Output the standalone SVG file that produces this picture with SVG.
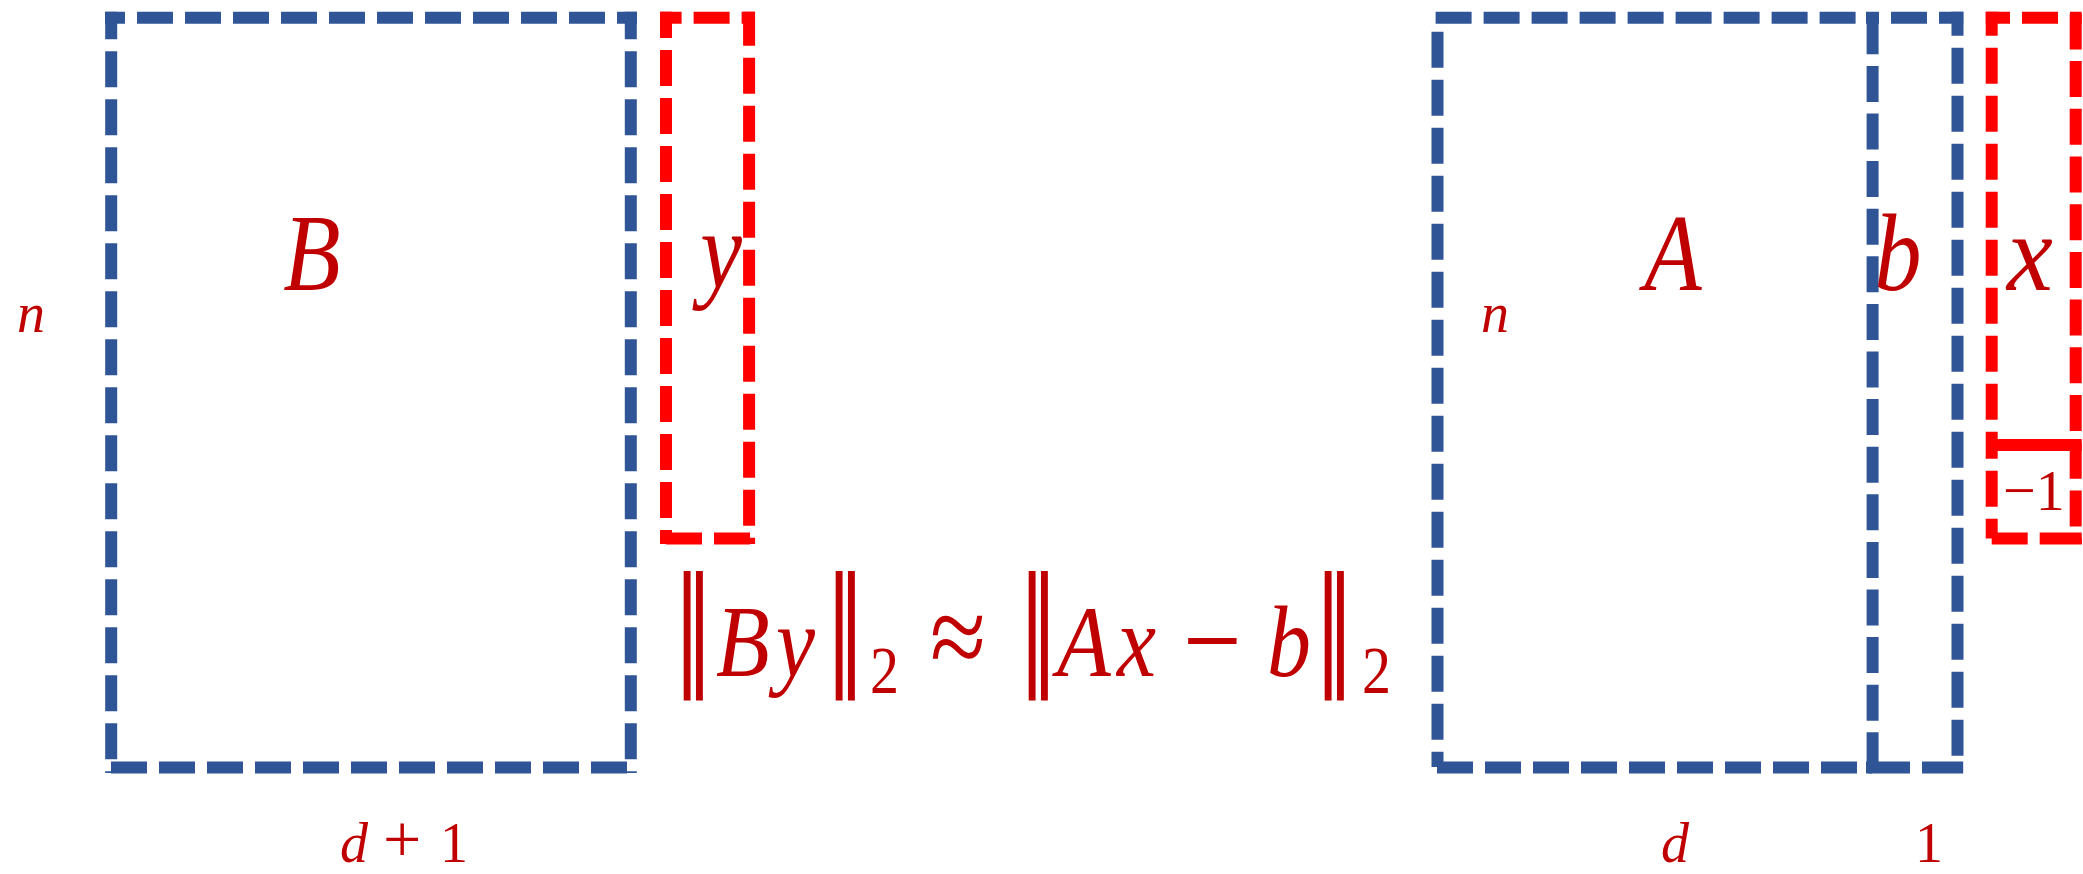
<svg xmlns="http://www.w3.org/2000/svg" width="2083" height="874" viewBox="0 0 2083 874">
<style>
.blue{stroke:#2F5597;stroke-width:12;fill:none;stroke-dasharray:36 12;stroke-linecap:butt}
.red{stroke:#FF0000;stroke-width:12;fill:none;stroke-dasharray:36 12;stroke-linecap:butt}
.solid{stroke-dasharray:none}
.t{fill:#C00000;font-family:"Liberation Serif","DejaVu Serif",serif}
.it{font-style:italic}
.big{font-size:88px}
.sm{font-size:56px}
.lbl{font-size:94px;font-style:italic}
.bar{font-size:88px;font-weight:bold}
</style>
<rect width="2083" height="874" fill="#FFFFFF"/>
<g id="node-B">
<line class="blue" x1="105" y1="17.8" x2="637" y2="17.8" stroke-dashoffset="16"/>
<line class="blue" x1="111.2" y1="11.7" x2="111.2" y2="773" stroke-dashoffset="8.4"/>
<line class="blue" x1="630.8" y1="11.7" x2="630.8" y2="773" stroke-dashoffset="8.4"/>
<line class="blue" x1="111" y1="767.5" x2="627" y2="767.5"/>
<text class="t lbl" x="312" y="290" text-anchor="middle" transform="translate(0,290) scale(1,1.18) translate(0,-290)">B</text>
</g>
<g id="node-y">
<line class="red" x1="660" y1="17.8" x2="755" y2="17.8" stroke-dashoffset="14.4"/>
<line class="red" x1="666" y1="11.7" x2="666" y2="544" stroke-dashoffset="9.7"/>
<line class="red" x1="749.1" y1="11.7" x2="749.1" y2="544" stroke-dashoffset="2"/>
<line class="red" x1="666" y1="538.5" x2="755" y2="538.5"/>
<text class="t lbl" x="721" y="288" text-anchor="middle" transform="translate(0,288) scale(1,1.18) translate(0,-288)">y</text>
</g>
<g id="node-A">
<line class="blue" x1="1435.6" y1="17.8" x2="1866" y2="17.8"/>
<line class="blue" x1="1437.5" y1="24" x2="1437.5" y2="767" stroke-dashoffset="40.3"/>
<line class="blue" x1="1437" y1="767.5" x2="1872" y2="767.5"/>
<text class="t lbl" x="1673" y="290" text-anchor="middle" transform="translate(0,290) scale(1,1.18) translate(0,-290)">A</text>
</g>
<g id="node-b">
<line class="blue" x1="1866" y1="17.8" x2="1963.2" y2="17.8" stroke-dashoffset="23"/>
<line class="blue" x1="1872.6" y1="18.3" x2="1872.6" y2="767" style="stroke-dasharray:36 11.6"/>
<line class="blue" x1="1957.5" y1="11.7" x2="1957.5" y2="767" stroke-dashoffset="12"/>
<line class="blue" x1="1866" y1="767.5" x2="1963.2" y2="767.5" style="stroke-dasharray:44 12"/>
<text class="t lbl" x="1898" y="290" text-anchor="middle" transform="translate(0,290) scale(1,1.18) translate(0,-290)">b</text>
</g>
<g id="node-x">
<line class="red" x1="1985.8" y1="17.8" x2="2081.6" y2="17.8" stroke-dashoffset="11.8"/>
<line class="red" x1="1991.7" y1="11.7" x2="1991.7" y2="439" stroke-dashoffset="12"/>
<line class="red" x1="2075.7" y1="11.7" x2="2075.7" y2="445" style="stroke-dasharray:36 11.7" stroke-dashoffset="46"/>
<line class="red solid" x1="1986" y1="445" x2="2081.7" y2="445"/>
<text class="t lbl" x="2030" y="290" text-anchor="middle" transform="translate(2030,290) scale(1.1,1.18) translate(-2030,-290)">x</text>
</g>
<g id="node-neg1">
<line class="red" x1="1991.7" y1="439" x2="1991.7" y2="538.5" stroke-dashoffset="16.3"/>
<line class="red" x1="2075.7" y1="445" x2="2075.7" y2="544" style="stroke-dasharray:36 11.7" stroke-dashoffset="2.3"/>
<line class="red" x1="1991.7" y1="538.5" x2="2081.7" y2="538.5" style="stroke-dasharray:36 12 43 12"/>
<text class="t" style="font-size:58px" x="2003" y="510">−1</text>
</g>
<g id="labels">
<text class="t it sm" x="17" y="332">n</text>
<text class="t it sm" x="1481" y="332">n</text>
<text class="t sm" y="862"><tspan class="it" x="340">d</tspan><tspan x="383" style="font-size:68px">+</tspan><tspan x="440">1</tspan></text>
<text class="t it sm" x="1661" y="862">d</text>
<text class="t sm" x="1915" y="862">1</text>
</g>
<g id="equation" transform="matrix(1,0,0,1.15,0,-101.4)">
<g transform="translate(0,650) scale(1,1.85) translate(0,-650)">
<text class="t bar" x="679" y="676">‖</text>
<text class="t bar" x="831" y="676">‖</text>
<text class="t bar" x="1024" y="676">‖</text>
<text class="t bar" x="1320" y="676">‖</text>
</g>
<text class="t big it" x="716" y="676">B</text>
<text class="t big it" x="776" y="676">y</text>
<text class="t" style="font-size:58px" x="870" y="691">2</text>
<text class="t" style="font-size:102px" x="930" y="676">≈</text>
<text class="t big it" x="1057" y="676">A</text>
<text class="t big it" x="1117" y="676">x</text>
<text class="t" style="font-size:104px" x="1183" y="680">−</text>
<text class="t big it" x="1267" y="676">b</text>
<text class="t" style="font-size:58px" x="1362" y="691">2</text>
</g>
</svg>
